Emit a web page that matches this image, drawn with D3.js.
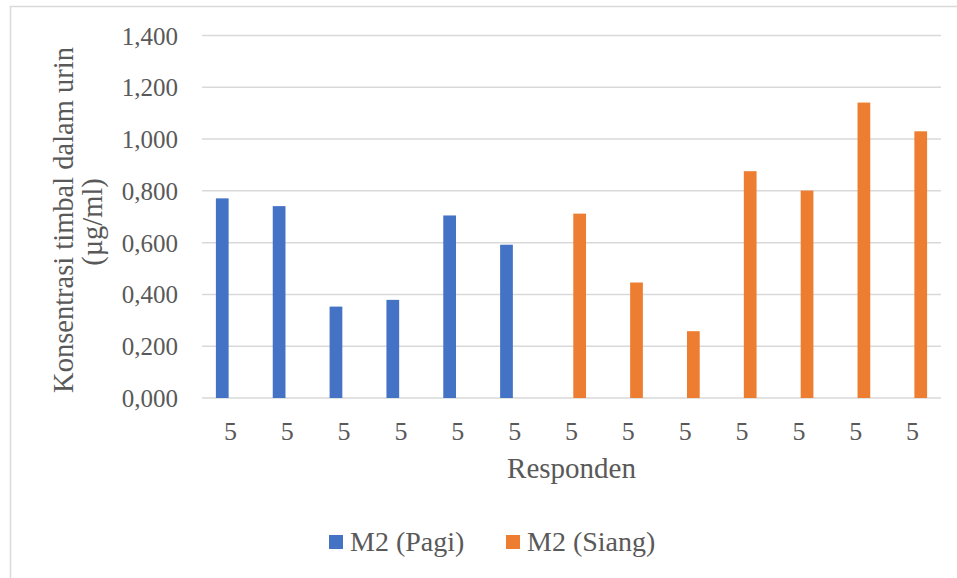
<!DOCTYPE html>
<html>
<head>
<meta charset="utf-8">
<script src="https://cdn.jsdelivr.net/npm/d3@7"></script>
<style>
  html, body { margin: 0; padding: 0; background: #fff; }
  svg { display: block; }
  text { font-family: "Liberation Serif", "Times New Roman", serif; fill: #595959; }
</style>
</head>
<body>
<svg id="chart" width="957" height="578"></svg>
<script>
// ---- data ----
const categories = ["5","5","5","5","5","5","5","5","5","5","5","5","5"];
const seriesNames = ["M2 (Pagi)", "M2 (Siang)"];
const pagi  = [0.771, 0.741, 0.353, 0.379, 0.705, 0.592, null, null, null, null, null, null, null];
const siang = [null, null, null, null, null, null, 0.712, 0.446, 0.258, 0.876, 0.801, 1.141, 1.030];
const yTicks = [0, 0.2, 0.4, 0.6, 0.8, 1.0, 1.2, 1.4];
const yTitleLines = ["Konsentrasi timbal dalam urin", "(µg/ml)"];
const xTitle = "Responden";
const colors = ["#4472C4", "#ED7D31"];

const svg = d3.select("#chart");
const W = 957, H = 578;
const plot = { left: 202, right: 941, top: 35.5, bottom: 398 };

// chart border (cropped on right and bottom)
svg.append("rect")
  .attr("x", 10.5).attr("y", 6.5)
  .attr("width", W).attr("height", H)
  .attr("fill", "none").attr("stroke", "#d9d9d9").attr("stroke-width", 1.5);

const locale = d3.formatLocale({ decimal: ",", thousands: ".", grouping: [3], currency: ["", ""] });
const fmt = locale.format(".3f");

const y = d3.scaleLinear().domain([0, 1.4]).range([plot.bottom, plot.top]);
const x0 = d3.scaleBand().domain(d3.range(categories.length)).range([plot.left, plot.right]).paddingInner(0).paddingOuter(0);
const groupPad = 13.9;
const x1 = d3.scaleBand().domain([0, 1]).range([groupPad, x0.bandwidth() - groupPad]).paddingInner(0.22).paddingOuter(0);

// gridlines
const yAxis = d3.axisLeft(y).tickValues(yTicks).tickSize(0).tickPadding(0).tickFormat(fmt);
svg.append("g")
  .selectAll("line").data(yTicks).join("line")
  .attr("x1", plot.left).attr("x2", plot.right)
  .attr("y1", d => y(d)).attr("y2", d => y(d))
  .attr("stroke", "#d9d9d9").attr("stroke-width", 1.5);

// y axis labels
const gy = svg.append("g").attr("transform", `translate(178,0)`).call(yAxis);
gy.select(".domain").remove();
gy.selectAll("text")
  .attr("font-family", '"Liberation Serif", "Times New Roman", serif')
  .attr("font-size", 25).attr("fill", "#595959").attr("dy", "0.34em");

// bars
const series = [pagi, siang];
series.forEach((vals, si) => {
  svg.append("g")
    .selectAll("rect")
    .data(vals.map((v, i) => ({ v, i })).filter(d => d.v != null))
    .join("rect")
    .attr("x", d => x0(d.i) + x1(si))
    .attr("width", x1.bandwidth())
    .attr("y", d => y(d.v))
    .attr("height", d => y(0) - y(d.v))
    .attr("fill", colors[si]);
});

// x axis labels
const xAxis = d3.axisBottom(x0).tickSize(0).tickPadding(0).tickFormat(i => categories[i]);
const gx = svg.append("g").attr("transform", `translate(0,${plot.bottom})`).call(xAxis);
gx.select(".domain").remove();
gx.selectAll("text")
  .attr("font-family", '"Liberation Serif", "Times New Roman", serif')
  .attr("font-size", 26).attr("fill", "#595959").attr("dy", null).attr("y", 42);

// x title
svg.append("text")
  .attr("x", (plot.left + plot.right) / 2).attr("y", 478)
  .attr("text-anchor", "middle").attr("font-size", 29)
  .text(xTitle);

// y title (two centred lines, rotated)
svg.append("text")
  .attr("transform", "translate(73,220) rotate(-90)")
  .attr("text-anchor", "middle").attr("font-size", 28.5)
  .text(yTitleLines[0]);
svg.append("text")
  .attr("transform", "translate(102,222) rotate(-90)")
  .attr("text-anchor", "middle").attr("font-size", 28.5)
  .text(yTitleLines[1]);

// legend
const legendItems = [
  { name: seriesNames[0], color: colors[0], x: 329 },
  { name: seriesNames[1], color: colors[1], x: 506 }
];
const lg = svg.append("g");
legendItems.forEach(it => {
  lg.append("rect").attr("x", it.x).attr("y", 535).attr("width", 14).attr("height", 14).attr("fill", it.color);
  lg.append("text").attr("x", it.x + 21).attr("y", 551).attr("font-size", 28).text(it.name);
});
</script>
</body>
</html>
